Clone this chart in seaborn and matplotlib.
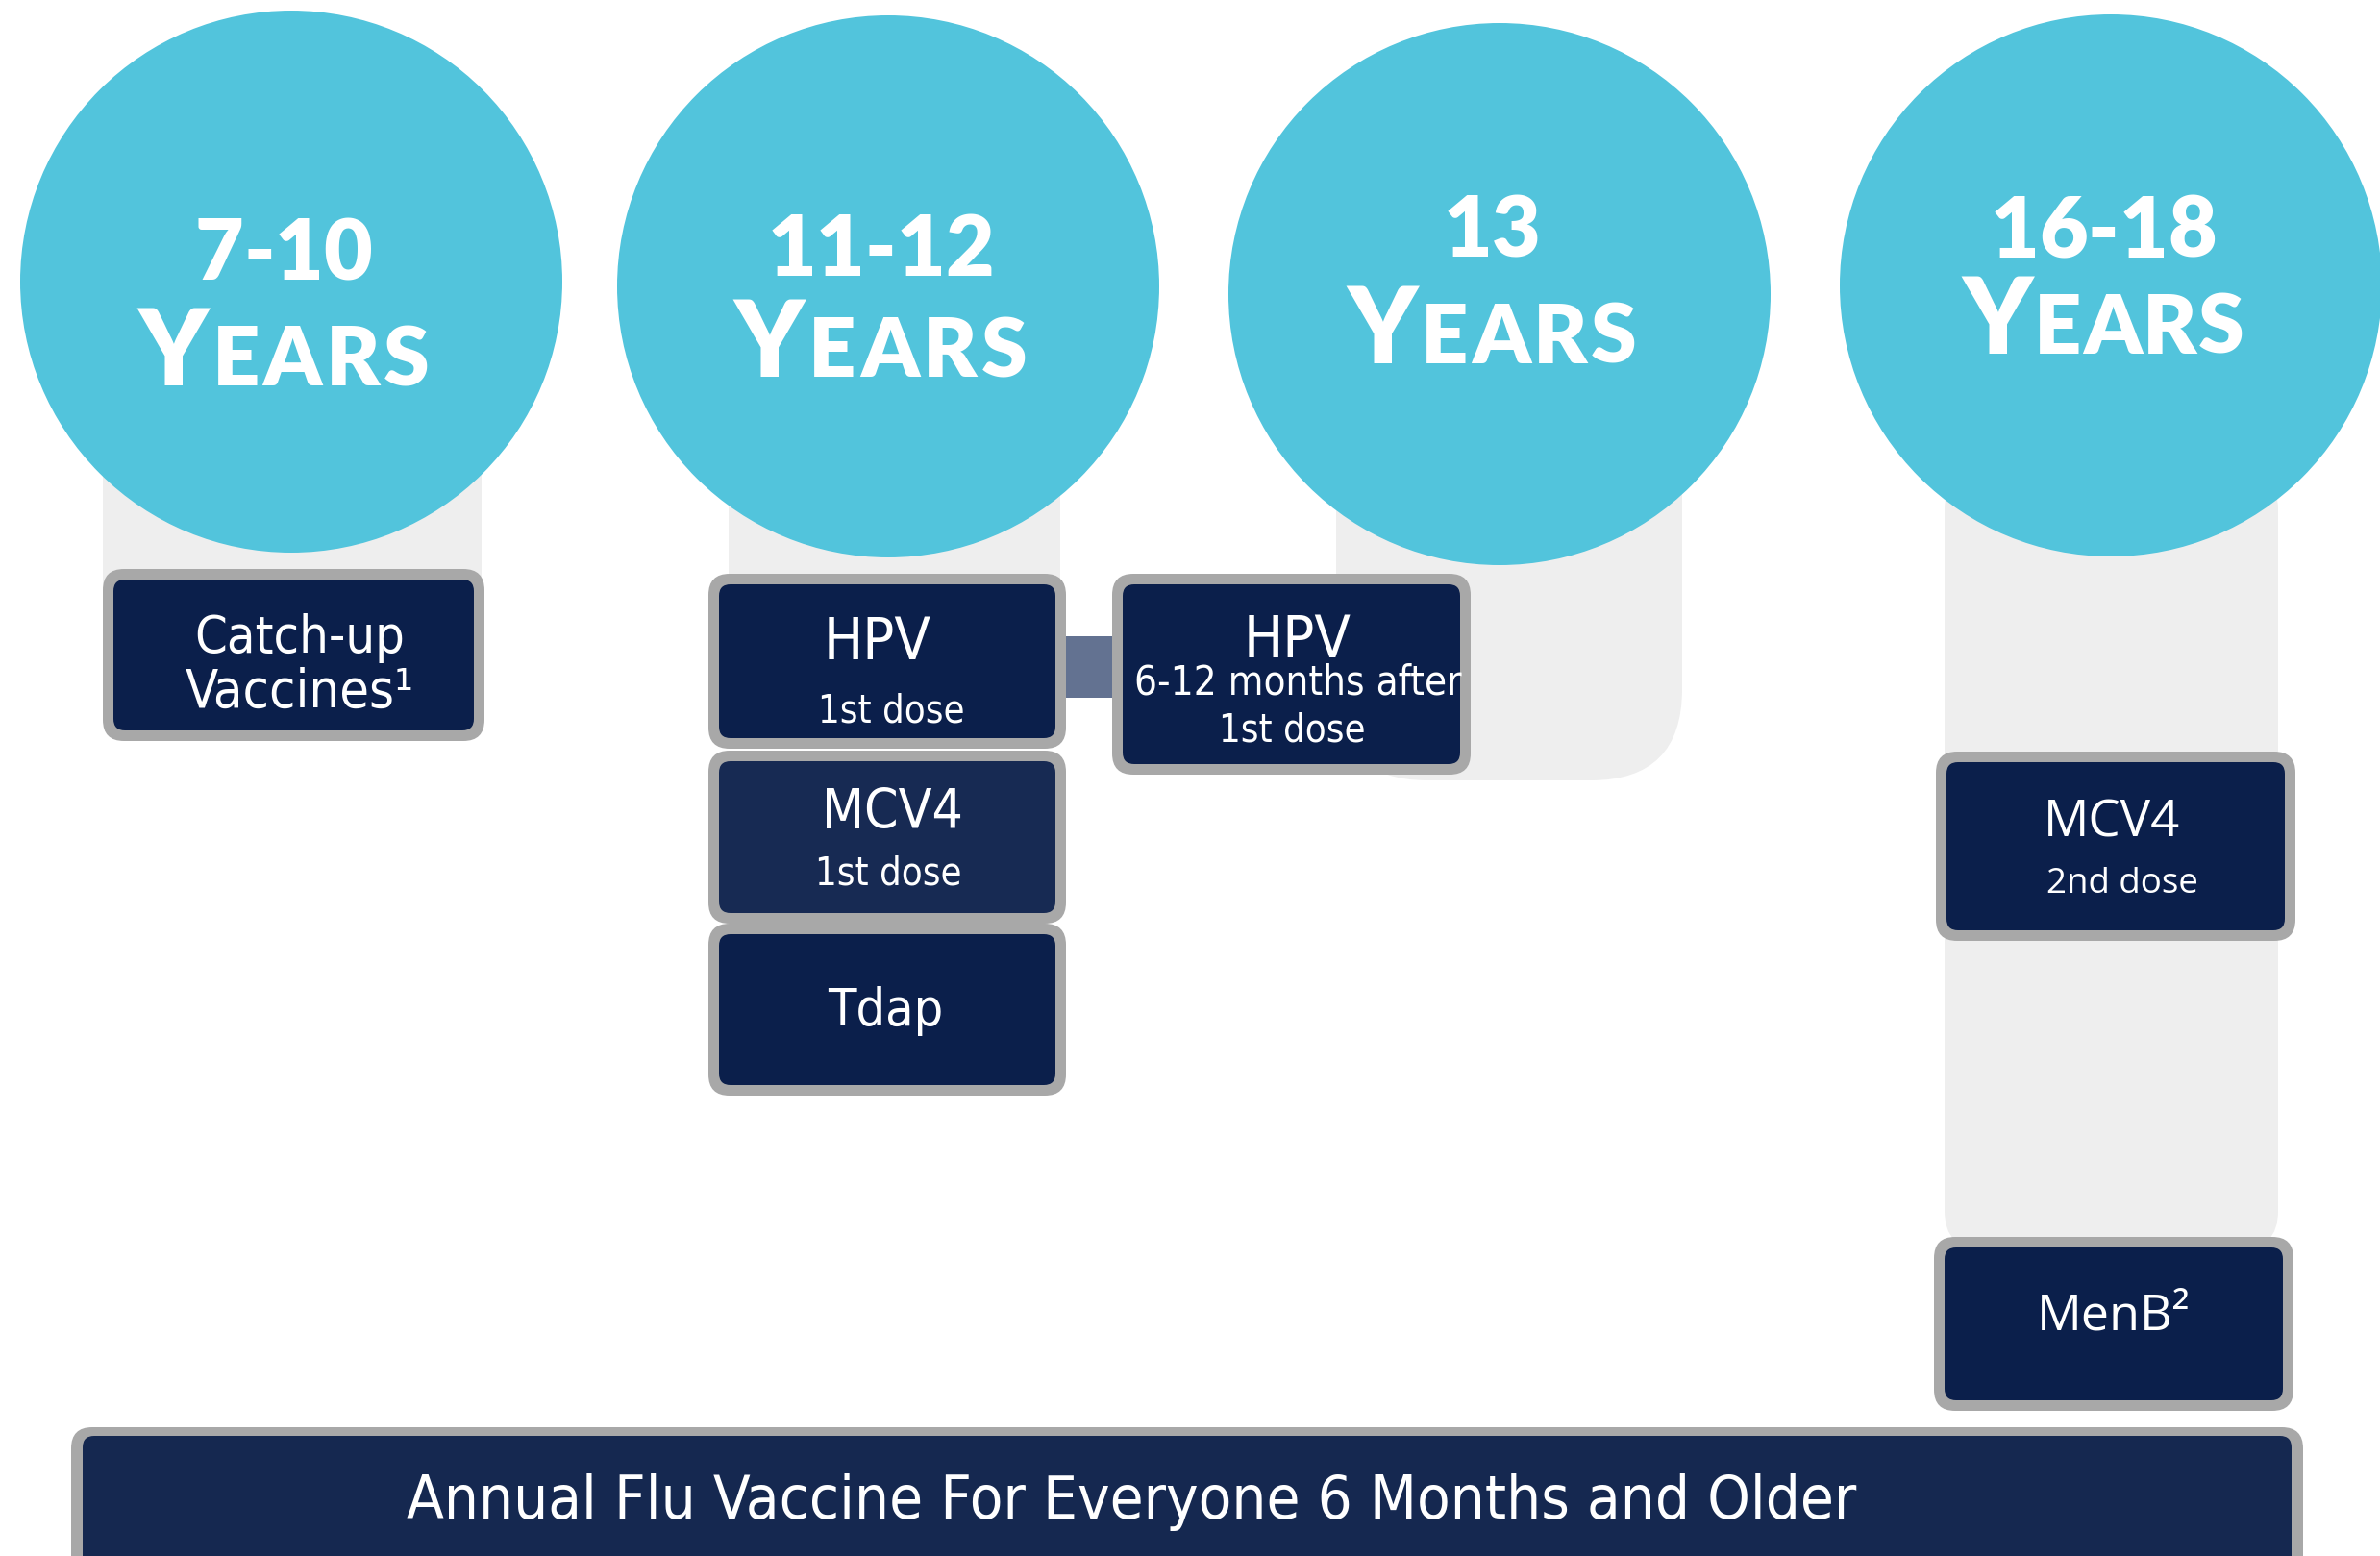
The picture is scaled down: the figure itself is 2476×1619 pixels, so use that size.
import matplotlib.pyplot as plt
import seaborn as sns
from matplotlib import font_manager as fm
from matplotlib.patches import Circle, FancyBboxPatch, Rectangle

sns.set_theme(style="white")

W, H = 2476, 1619

# ── Data ─────────────────────────────────────────────────────
age_numbers = ["7-10", "11-12", "13", "16-18"]
age_unit = "YEARS"
box_titles = ["Catch-up", "HPV", "MCV4", "Tdap", "HPV", "MCV4", "MenB²"]
box_notes = ["Vaccines¹", "1st dose", "1st dose", "",
             "6-12 months after\n1st dose", "2nd dose", ""]
flu_label = "Annual Flu Vaccine For Everyone 6 Months and Older"

# ── Layout (pixels, y down) ──────────────────────────────────
CYAN = "#52c4dc"
NAVY = "#0b1f4b"
NAVY_LIGHT = "#172a53"
FLU_NAVY = "#152850"
BORDER = "#a8a8a8"
COL_GREY = "#eeeeee"
LINK = "#637291"

circle_x = [303, 924, 1560, 2196]
circle_y = [293, 298, 306, 297]
circle_r = 282
num_base = [291, 287, 267, 268]
years_base = [401, 392, 378, 368]
years_width = [303, 305, 302, 273]

# grey columns: x0, x1, y0, y1, corner radius
col_rects = [(107, 501, 380, 700, 10), (758, 1103, 380, 620, 10),
             (1390, 1750, 400, 812, 95), (2023, 2370, 490, 1300, 40)]

# vaccine boxes: x0, y0, x1, y1
box_rects = [(107, 592, 504, 771), (737, 597, 1109, 779), (737, 781, 1109, 961),
             (737, 961, 1109, 1140), (1157, 597, 1530, 806),
             (2014, 782, 2388, 979), (2012, 1287, 2386, 1468)]
box_fill = [NAVY, NAVY, NAVY_LIGHT, NAVY, NAVY, NAVY, NAVY]
box_narrow = [True, True, True, True, True, False, False]
# per box text lines: centre x, baseline, width
line_x = [[312, 312], [913, 927], [928, 924], [921], [1350, 1350, 1344],
          [2197, 2208], [2199]]
line_base = [[679, 736], [686, 751], [862, 920], [1067], [684, 722, 771],
             [870, 929], [1383]]
line_w = [[219, 238], [112, 152], [147, 152], [120], [112, 340, 152],
          [142, 158], [159]]

link_rect = (1105, 662, 1160, 726)
flu_rect = (74, 1485, 2396, 1650)
flu_text_pos = (1177, 1580, 1507)

AGE_FONT = ["Lato", "DejaVu Sans"]
BORDER_W = 11


def pick_condensed():
    best, best_score = None, None
    for f in fm.fontManager.ttflist:
        tag = (f.name + " " + f.fname).lower()
        cond = ("condensed" in tag or "narrow" in tag
                or f.stretch in ("condensed", "semi-condensed", "extra-condensed"))
        if not cond or f.style != "normal" or "mono" in tag:
            continue
        w = f.weight if isinstance(f.weight, int) else 400
        score = abs(w - 350)
        if "semi" in tag or f.stretch == "semi-condensed":
            score += 150
        if best_score is None or score < best_score:
            best, best_score = f, score
    if best is None:
        return fm.FontProperties(family=["Roboto", "DejaVu Sans"], weight="light")
    return fm.FontProperties(fname=best.fname)


NARROW = pick_condensed()
PLAIN = fm.FontProperties(family=["Open Sans", "DejaVu Sans"])

fig = plt.figure(figsize=(W / 100, H / 100), dpi=100)
ax = fig.add_axes([0, 0, 1, 1])
ax.set_xlim(0, W)
ax.set_ylim(H, 0)
ax.axis("off")
renderer = fig.canvas.get_renderer()


def rbox(x0, y0, x1, y1, r, color, z):
    ax.add_patch(FancyBboxPatch((x0 + r, y0 + r), x1 - x0 - 2 * r, y1 - y0 - 2 * r,
                                boxstyle=f"round,pad={r},rounding_size={r}",
                                fc=color, ec="none", zorder=z))


def fit_text(x, y, s, width, fp):
    t = ax.text(x, y, s, fontproperties=fp, ha="center", va="baseline",
                color="white", zorder=6)
    t.set_fontsize(40)
    w = t.get_window_extent(renderer).width
    t.set_fontsize(40 * width / w)
    return t


def spaced_word(xc, base, word, sizes, width=None):
    texts = []
    for ch, fs in zip(word, sizes):
        texts.append(ax.text(0, base, ch, fontsize=fs, family=AGE_FONT,
                             weight="heavy", color="white", ha="left",
                             va="baseline", zorder=6))
    widths = [t.get_window_extent(renderer).width for t in texts]
    gap = 0 if width is None else max((width - sum(widths)) / max(len(word) - 1, 1), 1)
    total = sum(widths) + gap * (len(word) - 1)
    x = xc - total / 2
    for t, w in zip(texts, widths):
        t.set_x(x)
        x += w + gap


# ── Grey columns & circles ───────────────────────────────────
for x0, x1, y0, y1, r in col_rects:
    rbox(x0, y0, x1, y1, r, COL_GREY, 1)

for i, label in enumerate(age_numbers):
    ax.add_patch(Circle((circle_x[i], circle_y[i]), circle_r, fc=CYAN, ec="none", zorder=3))
    xc = circle_x[i] - 8
    spaced_word(xc, num_base[i], label, [63] * len(label))
    spaced_word(xc, years_base[i], age_unit, [79] + [62] * (len(age_unit) - 1),
                years_width[i])

# ── Connector between HPV doses ──────────────────────────────
lx0, ly0, lx1, ly1 = link_rect
ax.add_patch(Rectangle((lx0, ly0), lx1 - lx0, ly1 - ly0, fc=LINK, ec="none", zorder=2))

# ── Vaccine boxes ────────────────────────────────────────────
for i, (x0, y0, x1, y1) in enumerate(box_rects):
    rbox(x0, y0, x1, y1, 22, BORDER, 4)
    rbox(x0 + BORDER_W, y0 + BORDER_W, x1 - BORDER_W, y1 - BORDER_W, 12, box_fill[i], 5)
    lines = [box_titles[i]] + [s for s in box_notes[i].split("\n") if s]
    fp = NARROW if box_narrow[i] else PLAIN
    for s, x, b, w in zip(lines, line_x[i], line_base[i], line_w[i]):
        fit_text(x, b, s, w, fp)

# ── Annual flu banner ────────────────────────────────────────
fx0, fy0, fx1, fy1 = flu_rect
rbox(fx0, fy0, fx1, fy1, 22, BORDER, 4)
rbox(fx0 + 12, fy0 + 9, fx1 - 12, fy1, 12, FLU_NAVY, 5)
fit_text(flu_text_pos[0], flu_text_pos[1], flu_label, flu_text_pos[2], NARROW)

fig.savefig("out.png", dpi=100, facecolor="white")
